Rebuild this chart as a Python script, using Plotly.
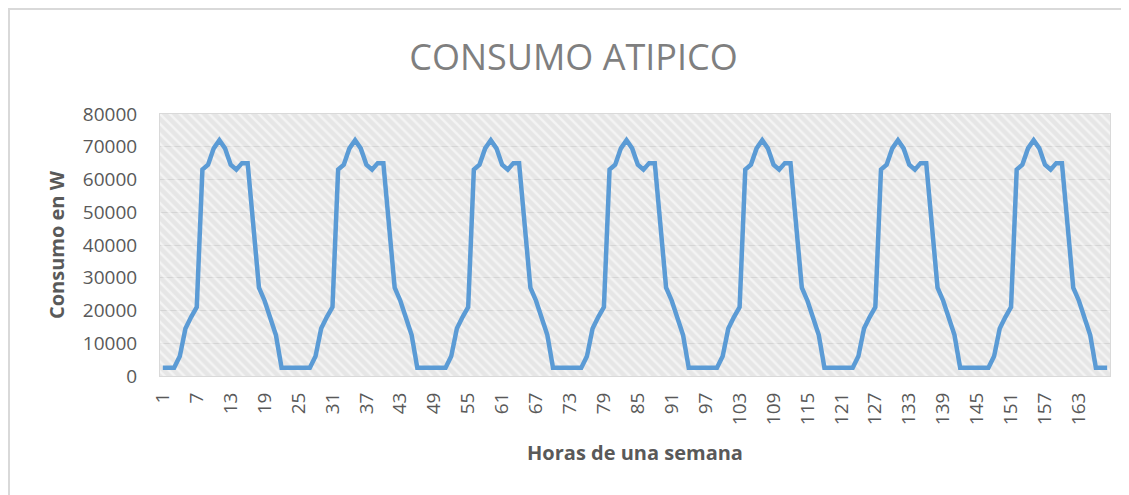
import plotly.graph_objects as go

# One day's hourly consumption profile (W), repeated over 7 days
day_profile = [2500, 2500, 2500, 6000, 14500, 18000, 21000, 63000, 64500, 69500, 72000, 69500,
               64500, 63000, 65000, 65000, 47000, 27000, 23000, 18000, 12500, 2500, 2500, 2500]
days = 7
hours = list(range(1, 24 * days + 1))
consumption = day_profile * days
tick_hours = list(range(1, 24 * days + 1, 6))
y_ticks = [0, 10000, 20000, 30000, 40000, 50000, 60000, 70000, 80000]

title_text = "CONSUMO ATIPICO"
x_title = "Horas de una semana"
y_title = "Consumo en W"

fig = go.Figure()

# hatched background panel (decoration)
fig.add_trace(go.Bar(
    x=[0.5], y=[y_ticks[-1]], width=[1], xaxis="x", yaxis="y",
    marker=dict(color="rgba(0,0,0,0)", line=dict(width=0),
                pattern=dict(shape="\\", fgcolor="#ffffff", fgopacity=0.55, size=7, solidity=0.35)),
    hoverinfo="skip", showlegend=False,
))

fig.add_trace(go.Scatter(
    x=hours, y=consumption, mode="lines", xaxis="x2", yaxis="y",
    line=dict(color="#5B9BD5", width=4.5),
    showlegend=False,
))

# page has an 8px body margin: figure coords = reference pixel coords - 8
fig.update_layout(
    width=1129, height=495,
    margin=dict(l=152, r=27, t=106, b=127),
    paper_bgcolor="white",
    plot_bgcolor="#e6e6e6",
    font=dict(family="Open Sans", color="#595959"),
    title=dict(text=title_text, x=(573.5 - 8) / 1129, xanchor="center", y=1 - 49 / 495, yanchor="middle",
               font=dict(family="Open Sans", size=36, color="#7f7f7f")),
    bargap=0,
    xaxis=dict(range=[0, 1], visible=False, fixedrange=True),
    xaxis2=dict(
        overlaying="x", side="bottom",
        range=[0.5, 168.5], tickmode="array", tickvals=tick_hours,
        ticktext=[str(t) for t in tick_hours], tickangle=-90,
        tickfont=dict(size=19, color="#595959"), showgrid=False, zeroline=False,
        showline=True, linecolor="#d9d9d9", linewidth=1, mirror=True, ticks="",
        ticklabelstandoff=8,
        title=dict(text="<b>" + x_title + "</b>", font=dict(size=20, color="#595959"), standoff=21),
    ),
    yaxis=dict(
        range=[0, 80000], tickmode="array", tickvals=y_ticks,
        ticktext=[str(v) for v in y_ticks],
        tickfont=dict(size=19, color="#595959"), showgrid=True, gridcolor="#d4d4d4",
        gridwidth=1, zeroline=False, showline=True, linecolor="#d9d9d9", mirror=True,
        ticks="", ticklabelstandoff=18,
        title=dict(text="<b>" + y_title + "</b>", font=dict(size=20, color="#595959"), standoff=12),
    ),
    shapes=[dict(type="rect", xref="paper", yref="paper",
                 x0=-151 / 950, x1=1200 / 950, y0=-300 / 262, y1=(262 + 105) / 262,
                 line=dict(color="#d9d9d9", width=2), fillcolor="rgba(0,0,0,0)", layer="below")],
)

fig.write_html("out.html")
